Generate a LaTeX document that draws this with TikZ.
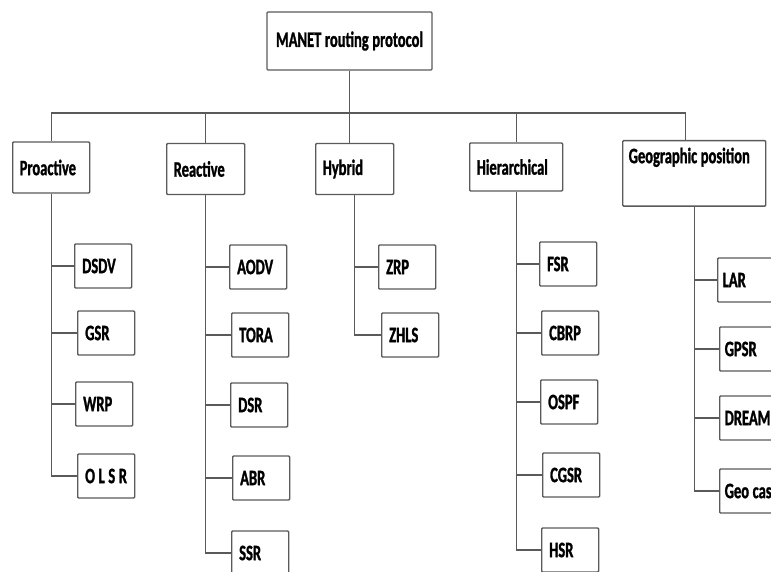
\documentclass[tikz,border=0pt]{standalone}
\usepackage{fontspec}
\setmainfont{Carlito}[FakeStretch=0.66,BoldFeatures={FakeBold=1.2}]
\usepackage{xcolor}
\definecolor{edgegray}{HTML}{5A5A5A}

\begin{document}
\begin{tikzpicture}[x=1pt,y=-1pt,every node/.style={font=\fontsize{22}{24}\selectfont\bfseries,align=left,execute at begin node={\spaceskip=3.6pt\relax}},box/.style={draw=edgegray,line width=1.4pt,rounded corners=1pt,fill=white,anchor=west},cat/.style={box,inner xsep=7pt,minimum height=51pt},leaf/.style={box,text width=42pt,inner xsep=7.5pt,minimum height=44pt},link/.style={draw=edgegray,line width=1.4pt}]
\useasboundingbox (0,0) rectangle (771,572);
\clip (0,0) rectangle (771,572);
\node[box,anchor=center,align=center,minimum width=165pt,minimum height=58pt] (root) at (349.5,41) {MANET routing protocol};
% categories
\node[cat,text width=63pt] (pro) at (12,167.5) {Proactive};
\node[cat,text width=64pt] (rea) at (166,169) {Reactive};
\node[cat,text width=64pt] (hyb) at (315,169) {Hybrid};
\node[cat,text width=79pt,minimum height=48pt] (hier) at (469,167) {Hierarchical};
\node[cat,anchor=north west,text width=131pt,inner xsep=6pt,inner ysep=7pt,text depth=36pt] (geo) at (622,140) {Geographic position};
% protocols
\node[leaf] (dsdv) at (74,266) {DSDV};
\node[leaf] (gsr) at (77,333) {GSR};
\node[leaf] (wrp) at (75,404) {WRP};
\node[leaf] (olsr) at (77,476) {O L S R};
\node[leaf] (aodv) at (229,267) {AODV};
\node[leaf] (tora) at (231,335) {TORA};
\node[leaf] (dsr) at (230,405) {DSR};
\node[leaf] (abr) at (232,478) {ABR};
\node[leaf] (ssr) at (231,553) {SSR};
\node[leaf] (zrp) at (378,267) {ZRP};
\node[leaf] (zhls) at (381,335) {ZHLS};
\node[leaf] (fsr) at (539,264) {FSR};
\node[leaf] (cbrp) at (541,333) {CBRP};
\node[leaf] (ospf) at (540,402) {OSPF};
\node[leaf] (cgsr) at (542,475) {CGSR};
\node[leaf] (hsr) at (541,550) {HSR};
\node[leaf,text width=60pt,inner xsep=5pt] (lar) at (717,280) {LAR};
\node[leaf,text width=60pt,inner xsep=5pt] (gpsr) at (719,349) {GPSR};
\node[leaf,text width=60pt,inner xsep=5pt] (dream) at (719,418) {DREAM};
\node[leaf,text width=60pt,inner xsep=5pt] (geocast) at (719,491) {Geo cast};
% tree lines
\coordinate (bus) at (0,113);
\draw[link] (root.south) -- (root.south|-hyb.north);
\draw[link] (pro.north) |- ([xshift=-9pt]geo.north|-bus) -- ([xshift=-9pt]geo.north);
\foreach \c in {rea,hier} \draw[link] (\c.north) -- (\c.north|-bus);
\foreach \c/\l in {pro/dsdv,pro/gsr,pro/wrp,pro/olsr,rea/aodv,rea/tora,rea/dsr,rea/abr,rea/ssr,hyb/zrp,hyb/zhls,hier/fsr,hier/cbrp,hier/ospf,hier/cgsr,hier/hsr,geo/lar,geo/gpsr,geo/dream,geo/geocast}
  \draw[link] (\c.south) |- (\l.west);
\end{tikzpicture}
\end{document}
